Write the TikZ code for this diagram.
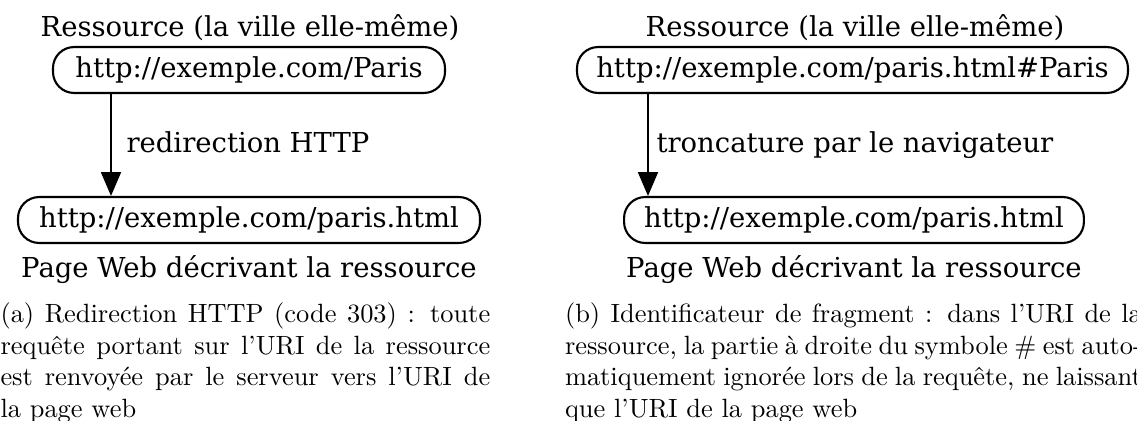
\documentclass[tikz,border=0pt]{standalone}
\usepackage{fontspec}
\usepackage{tikz}
\usetikzlibrary{positioning}
\usetikzlibrary{arrows.meta}
\newfontfamily\gvfont{DejaVu Serif}
\newcommand*{\gvsize}{\gvfont\fontsize{10.4}{12.5}\selectfont}

\begin{document}
\begin{tikzpicture}[x=0.3788pt, y=0.3788pt,
    uri/.style={draw, line width=0.8pt, rounded corners=8pt,
        minimum height=17.4pt, inner xsep=0pt, font=\gvsize},
    lbl/.style={inner sep=0pt, font=\gvsize},
    flow/.style={-{Triangle[length=9pt,width=7.5pt]}, line width=0.8pt},
    subcap/.style={anchor=north west, inner sep=0pt, align=justify,
        font=\fontsize{10}{12}\selectfont}]
 \useasboundingbox (0,0) rectangle (1137,-421);

 % Left: redirection
 \node[uri,
    minimum width=148.5pt
    ] (lres) at (249,-70) {http://exemple.com/Paris};
 \node[lbl, anchor=base] (lrestitle) at (250,-36) {Ressource (la ville elle-même)};

 \node[uri,
    minimum width=175pt
    ] (lpage) at (249,-220) {http://exemple.com/paris.html};
 \node[lbl, anchor=base] (lpagetitle) at (249,-277) {Page Web décrivant la ressource};

 \coordinate (larrow) at (111,0);
 \draw[flow] (lres.south -| larrow) -- (lpage.north -| larrow);
 \node[lbl, anchor=base west] (llabel) at (126,-152) {redirection HTTP};

 \node[subcap, text width=185.5pt] (lcaption) at (0,-302)
    {(a) Redirection HTTP (code 303) : toute\linebreak
     requête portant sur l'URI de la ressource\linebreak
     est renvoyée par le serveur vers l'URI de\linebreak
     la page web};

 % Right: fragment
 \node[uri,
    minimum width=208.7pt
    ] (rres) at (852.5,-70) {http://exemple.com/paris.html\#Paris};
 \node[lbl, anchor=base] (rrestitle) at (855,-36) {Ressource (la ville elle-même)};

 \node[uri,
    minimum width=174.2pt
    ] (rpage) at (854,-220) {http://exemple.com/paris.html};
 \node[lbl, anchor=base] (rpagetitle) at (854,-277) {Page Web décrivant la ressource};

 \coordinate (rarrow) at (648,0);
 \draw[flow] (rres.south -| rarrow) -- (rpage.north -| rarrow);
 \node[lbl, anchor=base west] (rlabel) at (656,-152) {troncature par le navigateur};

 \node[subcap, text width=218.5pt] (rcaption) at (564.5,-302)
    {(b) Identificateur de fragment : dans l'URI de la\linebreak
     ressource, la partie à droite du symbole \# est auto-\linebreak
     matiquement ignorée lors de la requête, ne laissant\linebreak
     que l'URI de la page web};

\end{tikzpicture}
\end{document}
